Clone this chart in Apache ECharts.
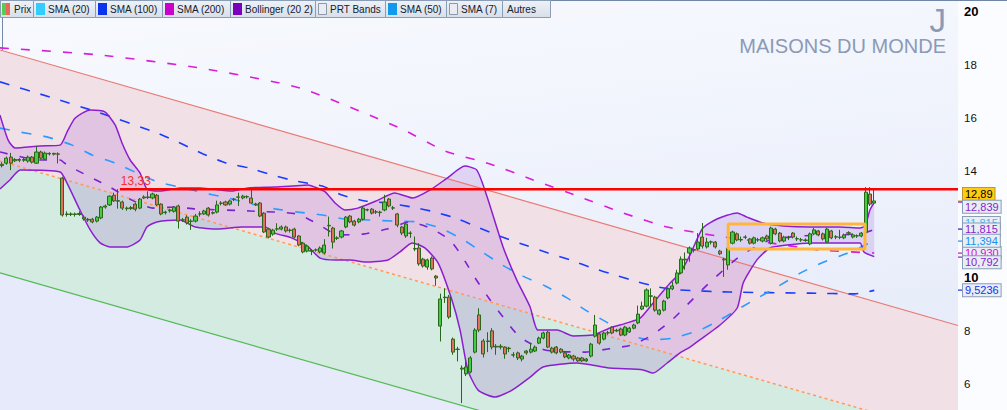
<!DOCTYPE html>
<html><head><meta charset="utf-8">
<script src="https://cdn.jsdelivr.net/npm/echarts@6/dist/echarts.min.js"></script>
<style>html,body{margin:0;padding:0;background:#fbfcff;}#c{width:1007px;height:410px;}</style>
</head><body><div id="c"></div>
<script>
// ---------- DATA ----------
const opens=[14.27,14.31,14.54,14.40,14.45,14.42,14.39,14.54,14.31,14.73,
14.46,14.66,14.68,14.65,13.75,12.40,12.38,12.40,12.38,12.28,
12.20,12.20,12.13,12.25,12.66,12.74,13.10,12.90,12.85,12.62,
12.60,12.77,12.62,13.00,13.04,13.00,13.10,12.77,12.45,12.52,
12.50,12.70,12.18,12.28,12.13,12.13,12.40,12.40,12.62,12.43,
12.47,12.81,12.85,12.77,12.96,13.04,13.00,13.04,13.00,12.77,
12.81,12.43,11.83,11.64,11.83,11.83,11.91,11.79,11.83,11.57,
11.30,11.00,11.00,11.04,10.97,10.93,11.95,11.87,11.50,11.53,
11.91,12.32,12.13,12.10,12.20,12.55,12.58,12.47,12.47,12.55,
12.96,12.62,12.40,11.91,11.57,11.68,11.08,11.12,10.70,10.40,
10.74,10.06,8.18,9.27,9.27,7.69,7.31,6.56,6.38,6.45,
7.20,8.60,7.62,7.62,8.00,7.39,7.42,7.39,7.35,7.10,
7.17,6.94,7.24,7.20,7.24,7.54,7.73,7.95,7.35,7.39,
7.31,7.17,6.98,7.05,6.98,6.98,6.87,7.05,7.80,7.88,
7.69,7.92,8.14,8.00,8.07,7.84,7.96,8.10,8.30,8.82,
8.93,9.30,9.27,8.63,8.78,9.24,9.58,9.80,10.18,10.67,
10.93,11.04,11.08,11.53,11.16,11.34,11.34,11.00,10.67,10.48,
11.30,11.65,11.42,11.53,11.46,11.30,11.42,11.38,11.57,11.30,
11.83,11.68,11.38,11.50,11.68,11.46,11.42,11.42,11.27,11.65,
11.76,11.65,11.34,11.76,11.53,11.53,11.50,11.68,11.53,11.57,
11.57,11.72,13.15,12.81];
const closes=[14.22,14.50,14.31,14.45,14.42,14.45,14.54,14.35,14.73,14.50,
14.69,14.68,14.65,14.66,12.36,12.38,12.40,12.38,12.42,12.21,
12.17,12.10,12.28,12.66,12.70,13.07,12.89,12.88,12.62,12.60,
12.64,12.58,12.96,13.04,13.02,13.15,12.74,12.40,12.47,12.55,
12.66,12.13,12.17,12.06,12.12,12.32,12.40,12.51,12.36,12.45,
12.74,12.80,12.74,12.89,12.95,13.03,13.07,13.05,12.81,12.76,
12.32,11.72,11.53,11.79,11.84,11.91,11.76,11.78,11.53,11.23,
10.97,11.19,11.02,11.05,11.12,11.23,11.97,11.34,11.48,11.76,
12.28,12.10,11.98,12.20,12.62,12.56,12.43,12.48,12.45,12.85,
12.70,12.63,11.98,11.68,12.02,11.67,11.10,10.52,10.44,10.67,
10.33,9.99,9.20,9.25,8.52,7.20,7.30,6.60,6.64,6.98,
8.03,8.03,7.13,7.60,7.39,7.42,7.39,7.13,7.33,7.09,
6.98,7.05,7.17,7.31,7.39,7.73,7.92,7.39,7.20,7.17,
7.20,7.02,7.09,6.94,6.87,6.87,6.94,7.50,8.22,7.54,
7.92,7.93,7.92,8.02,7.84,8.14,8.10,8.22,8.63,8.93,
9.54,9.32,8.78,8.78,9.12,9.58,9.69,10.18,10.70,10.70,
11.12,11.06,11.34,11.19,11.34,11.35,11.16,10.90,10.70,11.12,
11.72,11.42,11.44,11.52,11.30,11.50,11.43,11.50,11.46,11.87,
11.65,11.38,11.53,11.51,11.53,11.47,11.43,11.40,11.65,11.80,
11.61,11.46,11.83,11.50,11.54,11.52,11.61,11.69,11.61,11.58,
11.68,13.22,12.77,12.89];
const lows=[14.15,14.25,14.05,14.35,14.35,14.36,14.33,14.30,14.28,14.45,
14.42,14.60,14.60,14.30,12.30,12.30,12.32,12.30,12.33,12.15,
12.10,12.05,12.08,12.20,12.60,12.70,12.85,12.60,12.55,12.52,
12.55,12.50,12.58,12.96,12.96,12.95,12.70,12.35,12.38,12.45,
12.45,11.85,12.10,12.00,11.80,12.08,12.30,12.36,12.30,12.38,
12.42,12.72,12.70,12.72,12.88,12.70,12.95,12.98,12.78,12.70,
12.28,11.68,11.48,11.58,11.76,11.78,11.70,11.70,11.48,11.18,
10.92,10.95,10.85,10.98,10.92,10.88,11.55,11.10,11.42,11.48,
11.86,12.05,11.93,12.05,12.15,12.50,12.38,12.40,12.30,12.50,
12.65,12.55,11.90,11.60,11.50,11.50,11.00,10.45,10.38,10.30,
10.28,9.70,7.60,9.05,8.45,7.10,6.85,5.28,6.30,6.40,
7.15,7.95,7.00,7.20,7.30,7.10,7.30,6.95,7.20,7.00,
6.90,6.85,7.10,7.15,7.20,7.50,7.68,7.35,7.15,7.12,
7.15,6.97,6.93,6.85,6.83,6.83,6.83,7.00,7.75,7.48,
7.64,7.85,7.87,7.95,7.80,7.80,7.92,8.06,8.25,8.78,
8.88,8.90,8.72,8.58,8.73,9.19,9.53,9.75,10.13,10.30,
10.60,10.95,11.03,11.10,11.10,11.25,11.10,10.85,10.03,10.30,
11.25,11.37,11.35,11.45,11.25,11.25,11.35,11.33,11.40,11.25,
11.60,11.33,11.33,11.42,11.48,11.38,11.35,11.35,11.22,11.60,
11.56,11.40,11.30,11.45,11.45,11.45,11.45,11.60,11.48,11.50,
11.52,11.60,12.70,12.75];
const highs=[14.35,14.56,14.70,14.50,14.50,14.52,14.60,14.58,14.95,14.78,
14.75,14.72,14.70,14.72,13.80,12.50,12.46,12.45,12.50,12.35,
12.25,12.25,12.32,12.70,12.75,13.10,13.20,13.33,12.90,12.68,
12.70,12.82,13.00,13.10,13.25,13.20,13.15,12.80,12.52,12.60,
12.70,12.75,12.25,12.35,12.20,12.40,12.50,12.56,12.66,12.50,
12.90,12.88,12.90,12.94,13.00,13.20,13.12,13.10,13.30,12.82,
12.85,12.47,11.88,11.84,12.05,11.97,11.96,11.85,11.88,11.60,
11.35,11.25,11.08,11.10,11.18,11.45,12.30,11.92,11.56,11.80,
12.32,12.36,12.18,12.25,12.68,12.60,12.62,12.55,12.52,13.12,
13.00,12.70,12.44,11.95,12.08,11.75,11.55,11.30,10.75,10.72,
10.80,10.10,9.40,9.60,9.35,7.75,7.40,6.70,6.95,7.05,
8.10,8.85,7.70,7.95,8.10,7.50,7.50,7.42,7.40,7.20,
7.22,7.10,7.28,7.55,7.45,7.78,7.97,8.00,7.40,7.43,
7.35,7.21,7.13,7.10,7.02,7.02,6.98,7.55,8.60,7.93,
7.97,8.00,8.18,8.08,8.12,8.19,8.15,8.27,8.95,9.10,
9.60,9.60,9.32,8.82,9.17,9.63,9.85,10.30,10.80,10.95,
11.18,11.10,11.68,12.06,11.50,11.40,11.38,11.05,10.75,11.20,
11.77,11.70,11.55,11.60,11.50,11.55,11.50,11.55,11.62,11.92,
11.88,11.72,11.58,11.58,11.72,11.55,11.50,11.48,11.70,11.87,
11.80,11.70,11.88,11.80,11.60,11.80,11.66,11.75,11.66,11.63,
11.72,13.41,13.41,13.30];

// indicator samples: [candle index, value]
const sma200=[[-0.5,18.65],[22.8,18.38],[46.1,17.89],[69.3,17.14],[92.6,15.63],[103.1,14.77],[113.6,14.28],[123.6,13.68],[134.5,13.04],[144.5,12.44],[154.8,11.91],[166.4,11.57],[178.7,11.31],[190.4,11.04],[203,10.93]];
const sma100=[[-0.5,17.37],[11.1,16.80],[22.8,16.20],[36.0,15.45],[41.9,15.03],[46.8,14.66],[52.1,14.32],[57.5,14.13],[62.8,13.87],[68.2,13.64],[74.5,13.45],[79.1,13.11],[84.5,12.89],[89.8,12.81],[95.4,12.66],[100.8,12.47],[106.1,12.21],[111.2,11.87],[116.4,11.53],[121.7,11.23],[127.1,10.93],[132.2,10.67],[137.5,10.36],[142.7,10.10],[148.0,9.84],[152.7,9.65],[157.8,9.54],[169.4,9.46],[188.1,9.42],[198.5,9.39],[203,9.5236]];
const sma50=[[-0.5,15.63],[4.2,15.48],[10.4,15.30],[16.3,14.99],[20.9,14.62],[26.3,14.32],[31.4,13.94],[36.3,13.60],[41.4,13.41],[47.0,13.19],[52.6,13.00],[58.2,12.77],[63.5,12.59],[68.9,12.47],[74.5,12.36],[79.8,12.21],[85.6,12.17],[91.2,12.13],[96.8,12.10],[101.9,11.87],[107.0,11.46],[111.7,10.97],[116.4,10.48],[121.2,10.06],[126.4,9.69],[131.5,9.24],[136.1,8.75],[141.0,8.30],[146.1,7.84],[151.0,7.66],[156.2,7.73],[162.4,8.03],[167.1,8.41],[172.2,8.90],[175.9,9.24],[180.8,9.69],[186.2,10.21],[191.3,10.59],[196.2,10.89],[200.9,11.23],[203,11.394]];
const bbUpper=[[-0.5,16.12],[1.4,15.18],[3.0,14.88],[8.8,14.96],[13.5,14.99],[15.1,15.48],[17.0,16.01],[20.5,16.31],[23.9,16.24],[26.3,15.75],[27.9,15.07],[29.8,14.43],[32.1,13.94],[33.7,13.34],[36.7,13.26],[41.4,13.38],[46.1,13.38],[53.5,13.26],[57.2,13.38],[63.5,13.41],[67.5,13.45],[71.2,13.49],[72.8,13.41],[75.2,13.23],[77.5,12.81],[79.8,12.55],[82.8,12.62],[87.5,12.92],[91.4,13.19],[95.6,13.00],[99.6,13.30],[103.6,13.75],[107.7,14.20],[110.5,14.05],[112.9,13.04],[116.6,11.16],[119.8,9.91],[122.9,8.90],[124.7,8.03],[129.2,8.03],[132.9,7.81],[137.5,7.84],[141.5,8.11],[145.5,8.30],[148.5,8.48],[150.8,8.90],[153.1,9.35],[155.5,9.80],[157.8,10.18],[160.1,10.85],[163.1,11.87],[166.4,12.21],[171.1,12.44],[173.4,12.28],[177.1,12.06],[181.8,11.95],[188.1,11.91],[195.0,11.91],[199.7,11.87],[200.9,11.95],[202.0,12.55],[203,12.839]];
const bbLower=[[-0.5,13.34],[1.8,13.68],[4.2,14.05],[13.5,13.98],[15.1,13.56],[18.1,12.55],[20.5,11.80],[22.8,11.31],[25.1,11.16],[29.1,11.16],[32.1,11.42],[33.7,11.91],[36.0,12.10],[41.4,12.17],[44.9,11.91],[50.2,11.83],[55.8,11.91],[61.2,11.91],[63.5,11.68],[67.5,11.49],[71.2,11.16],[74.0,10.74],[77.5,10.67],[81.0,10.67],[84.5,10.59],[89.8,10.67],[92.6,10.97],[95.4,11.31],[98.4,11.12],[101.5,10.55],[104.7,9.16],[106.6,8.03],[108.4,6.53],[110.8,5.77],[114.7,5.51],[118.7,5.77],[122.9,6.26],[125.9,6.64],[133.8,6.79],[137.5,6.71],[141.5,6.60],[149.2,6.53],[151.5,6.41],[154.8,6.79],[157.8,7.17],[160.1,7.39],[162.4,7.66],[167.1,8.22],[171.1,8.86],[172.5,9.80],[175.7,10.67],[178.7,11.12],[182.7,11.23],[188.1,11.31],[195.0,11.31],[199.7,11.31],[200.6,10.97],[203,10.792]];
const bbMid=[[-0.5,14.73],[8.8,14.43],[13.5,14.43],[15.1,14.24],[20.5,13.79],[25.1,13.41],[30.2,12.92],[35.1,12.62],[40.2,12.66],[44.9,12.59],[57.7,12.51],[68.6,12.40],[73.5,12.02],[78.2,11.61],[84.0,11.64],[89.6,11.83],[94.9,12.10],[99.6,11.87],[104.2,11.42],[107.0,10.82],[110.1,9.99],[113.6,9.16],[116.6,8.52],[120.5,7.77],[126.4,7.28],[135.7,7.20],[141.0,7.32],[146.6,7.47],[151.3,7.84],[155.9,8.41],[159.4,8.97],[164.3,9.76],[171.8,10.82],[178.7,11.42],[185.7,11.57],[195.0,11.61],[200.6,11.68],[203,11.815]];

// PRT regression channel (ends at both plot edges)
const prtX=[-0.5,222.5];
const prtUpper=[18.57,8.20];
const prtMid=[14.39,4.02];
const prtLower=[10.18,-0.17];

const resistanceLevel=13.33, resistanceStart=27.4;
const rangeBoxX=[169.0,200.85], rangeBoxY=[11.08,12.02];

const yMin=5.0215, yMax=20.4516;
const yTicks=[6,8,10,12,14,16,18,20];
const lastTags=[
 {v:11.815,t:'11,815',c:'#33bbee'},
 {v:12.89,t:'12,89',c:'#000000',bg:'#ffcc11'},
 {v:12.839,t:'12,839',c:'#8a22cc'},
 {v:11.815,t:'11,815',c:'#8a22cc'},
 {v:10.930,t:'10,930',c:'#cc11cc'},
 {v:11.394,t:'11,394',c:'#1a8fee'},
 {v:10.792,t:'10,792',c:'#8a22cc'},
 {v:9.5236,t:'9,5236',c:'#1133ee'}
];
const tagShift=[-6.5,-7,4.5,0,0,0,5.5,0];

const slotCount=223;
const categories=[]; for(let i=0;i<slotCount;i++) categories.push('J'+i);

// ---------- CHART ----------
const chart=echarts.init(document.getElementById('c'),null,{renderer:'svg'});
const candles=opens.map((o,i)=>[o,closes[i],lows[i],highs[i]]);
function poly(points,fill){
  return {type:'custom',xAxisIndex:1,yAxisIndex:0,silent:true,data:[[0,10]],z:1,
    renderItem:(p,api)=>({type:'polygon',shape:{points:points.map(pt=>api.coord(pt))},style:{fill:fill}})};
}
function line(data,color,width,type,z){
  return {type:'line',xAxisIndex:1,yAxisIndex:0,data:data,symbol:'none',smooth:0.2,silent:true,z:z||3,
    lineStyle:{color:color,width:width,type:type||'solid'}};
}
const pU=prtX.map((x,i)=>[x,prtUpper[i]]), pM=prtX.map((x,i)=>[x,prtMid[i]]), pL=prtX.map((x,i)=>[x,prtLower[i]]);
const bbPoly=bbUpper.concat(bbLower.slice().reverse());
const option={
  animation:false,
  backgroundColor:'#fbfcff',
  textStyle:{fontFamily:'Arial, "Liberation Sans", sans-serif'},
  grid:{left:0,right:49,top:0,bottom:0,show:true,borderWidth:0,
    backgroundColor:{type:'linear',x:0,y:0,x2:0.25,y2:1,colorStops:[{offset:0,color:'#f8fafe'},{offset:1,color:'#e7ecfa'}]}},
  xAxis:[
    {type:'category',data:categories,show:false,boundaryGap:true},
    {type:'value',min:-0.5,max:slotCount-0.5,show:false}
  ],
  yAxis:{type:'value',position:'right',min:yMin,max:yMax,scale:true,
    splitLine:{show:false},
    axisLine:{show:true,lineStyle:{color:'#7389a8',width:1}},
    axisTick:{show:true,length:4,lineStyle:{color:'#445'},customValues:yTicks},
    axisLabel:{margin:6,customValues:yTicks,
      formatter:v=>(v===10||v===20)?'{b|'+v+'}':'{n|'+v+'}',
      rich:{b:{fontWeight:'bold',fontSize:13,color:'#000'},n:{fontSize:11.5,color:'#111'}}}
  },
  series:[
    poly([pL[0],pL[1],[prtX[1],prtLower[1]-20],[prtX[0],prtLower[0]-20]],'#e6eafa'),
    poly([pM[0],pM[1],pL[1],pL[0]],'#d3ebe0'),
    poly([pU[0],pU[1],pM[1],pM[0]],'#f2e0e7'),
    line(pU,'#e87b74',1.2),
    line(pM,'#ff9a5a',1.5,[3,3]),
    line(pL,'#55b955',1.2),
    poly(bbPoly,'rgba(150,70,205,0.18)'),
    line(sma200,'#d61fd6',1.6,[9,12]),
    line(sma100,'#1a3cff',1.6,[10,11]),
    line(sma50,'#2a9bff',1.6,[10,12]),
    line(bbMid,'#7b22d0',1.6,[8,12]),
    line(bbUpper,'#8b1fd0',1.5),
    line(bbLower,'#8b1fd0',1.5),
    {type:'candlestick',xAxisIndex:0,yAxisIndex:0,data:candles,barWidth:3.6,z:5,silent:true,
      itemStyle:{color:'#44cc44',color0:'#e2705e',borderColor:'#2c661d',borderColor0:'#2c661d',borderWidth:1}},
    line([[resistanceStart,resistanceLevel],[slotCount-0.5,resistanceLevel]],'#ff0000',2.5,'solid',6),
    {type:'line',xAxisIndex:1,yAxisIndex:0,symbol:'none',silent:true,z:6,
      data:[[rangeBoxX[0],rangeBoxY[0]],[rangeBoxX[0],rangeBoxY[1]],[rangeBoxX[1],rangeBoxY[1]],[rangeBoxX[1],rangeBoxY[0]],[rangeBoxX[0],rangeBoxY[0]]],
      lineStyle:{color:'#ffb63a',width:3}}
  ]
};
chart.setOption(option);

// ---------- ANNOTATIONS ----------
const yPix=v=>chart.convertToPixel({yAxisIndex:0},v);
const xPix=i=>chart.convertToPixel({xAxisIndex:1},i);
const g=[];
g.push({type:'rect',shape:{x:0,y:0,width:1007,height:1},style:{fill:'#6f86a6'},z:100});
const legendItems=[
 {t:'Prix',x:0,w:33,icon:'split'},
 {t:'SMA (20)',x:33,w:62,icon:'#33ccff'},
 {t:'SMA (100)',x:95,w:67,icon:'#0a33ee'},
 {t:'SMA (200)',x:162,w:68,icon:'#cc00cc'},
 {t:'Bollinger (20 2)',x:230,w:85,icon:'#7a00bb'},
 {t:'PRT Bands',x:315,w:70,icon:'empty'},
 {t:'SMA (50)',x:385,w:61,icon:'#1199ee'},
 {t:'SMA (7)',x:446,w:56,icon:'empty'},
 {t:'Autres',x:502,w:48,icon:null}
];
legendItems.forEach(it=>{
  g.push({type:'rect',shape:{x:it.x+0.5,y:0.5,width:it.w,height:17},
    style:{fill:{type:'linear',x:0,y:0,x2:0,y2:1,colorStops:[{offset:0,color:'#eef2f7'},{offset:1,color:'#d7dfea'}]},stroke:'#8a9db6',lineWidth:1},z:100});
  let tx=it.x+15;
  if(it.icon==='split'){
    g.push({type:'rect',shape:{x:it.x+2,y:3,width:4,height:12},style:{fill:'#55cc55'},z:101});
    g.push({type:'rect',shape:{x:it.x+6,y:3,width:4,height:12},style:{fill:'#e8685a'},z:101});
    tx=it.x+14;
  } else if(it.icon==='empty'){
    g.push({type:'rect',shape:{x:it.x+3.5,y:3.5,width:8,height:11},style:{fill:'#e9edf3',stroke:'#8d99a8',lineWidth:1},z:101});
  } else if(it.icon){
    g.push({type:'rect',shape:{x:it.x+3,y:3,width:9,height:12},style:{fill:it.icon},z:101});
  } else { tx=it.x+5; }
  g.push({type:'text',x:tx,y:9.5,style:{text:it.t,fill:'#15202e',font:'10px Arial',align:'left',verticalAlign:'middle'},z:102});
});
g.push({type:'text',x:946,y:20,style:{text:'J',fill:'#8b9ab6',font:'33px Arial',align:'right',verticalAlign:'middle'},z:50});
g.push({type:'text',x:946,y:46,style:{text:'MAISONS DU MONDE',fill:'#8b9ab6',font:'20px Arial',align:'right',verticalAlign:'middle'},z:50});
g.push({type:'text',x:xPix(resistanceStart)+1,y:yPix(resistanceLevel)-8,style:{text:String(resistanceLevel).replace('.',','),fill:'#ff2a2a',font:'12px Arial',align:'left',verticalAlign:'middle'},z:50});
lastTags.forEach((tg,i)=>{
  const y=yPix(tg.v);
  g.push({type:'rect',shape:{x:958,y:Math.round(y)-0.5,width:4,height:1.2},style:{fill:tg.c==='#000000'?'#cc9900':tg.c},z:60+i});
  g.push({type:'text',x:963,y:y+tagShift[i],style:{text:tg.t,fill:tg.c,font:'11px Arial',align:'left',verticalAlign:'middle',
    backgroundColor:tg.bg||'#e8edf6',borderColor:tg.bg?'#b8962a':'#8c9cb5',borderWidth:1,padding:[1,2,0,2]},z:60+i});
});
chart.setOption({graphic:g});
</script></body></html>
